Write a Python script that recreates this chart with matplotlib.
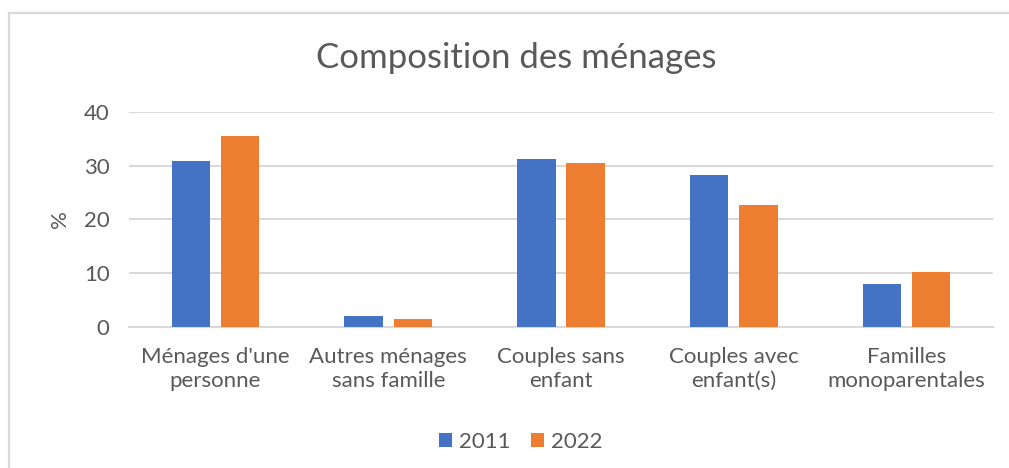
import numpy as np
import matplotlib.pyplot as plt
from matplotlib.lines import Line2D

categories = ["Ménages d'une\npersonne", "Autres ménages\nsans famille", "Couples sans\nenfant",
              "Couples avec\nenfant(s)", "Familles\nmonoparentales"]
years = ["2011", "2022"]
v2011 = [30.9, 1.9, 31.2, 28.3, 7.9]
v2022 = [35.5, 1.5, 30.4, 22.6, 10.2]
colors = ["#4472C4", "#ED7D31"]

plt.rcParams['font.family'] = ['Lato', 'DejaVu Sans']
grey = "#595959"

fig = plt.figure(figsize=(10.09, 4.68), dpi=100)
# outer chart frame (only top and left edges visible)
fig.lines.append(Line2D([0.0085, 1.0], [0.9725, 0.9725], transform=fig.transFigure,
                        color="#d9d9d9", linewidth=1.6))
fig.lines.append(Line2D([0.0085, 0.0085], [0.0, 0.9725], transform=fig.transFigure,
                        color="#d9d9d9", linewidth=1.6))
ax = fig.add_axes([0.128, 0.302, 0.856, 0.459])

x = np.arange(len(categories))
w = 0.223
gap = 0.062
ax.bar(x - (w + gap) / 2, v2011, w, color=colors[0], label=years[0], zorder=3)
ax.bar(x + (w + gap) / 2, v2022, w, color=colors[1], label=years[1], zorder=3)

ax.set_xlim(-0.5, len(categories) - 0.5)
ax.set_ylim(0, 40)
ax.set_yticks([0, 10, 20, 30, 40])
ax.yaxis.grid(True, color="#d9d9d9", linewidth=1.5, zorder=0)
ax.set_axisbelow(True)
for s in ["top", "right", "left"]:
    ax.spines[s].set_visible(False)
ax.spines["bottom"].set_color("#d9d9d9")
ax.spines["bottom"].set_linewidth(1.5)
ax.tick_params(axis="y", length=0, labelsize=16, colors=grey, pad=14)
ax.tick_params(axis="x", length=0, labelsize=16, colors=grey, pad=15)
ax.set_xticks(x)
ax.set_xticklabels(categories, linespacing=1.22)
ax.set_ylabel("%", fontsize=16, color=grey, labelpad=10)

fig.text(0.512, 0.876, "Composition des ménages", ha="center", va="center",
         fontsize=25, color=grey)

ax.legend(loc="center", bbox_to_anchor=(0.516, 0.056), bbox_transform=fig.transFigure,
          ncol=2, frameon=False, fontsize=16, labelcolor=grey, handlelength=0.6,
          handleheight=0.6, handletextpad=0.3, columnspacing=0.9)

fig.savefig("out.png", dpi=100)
